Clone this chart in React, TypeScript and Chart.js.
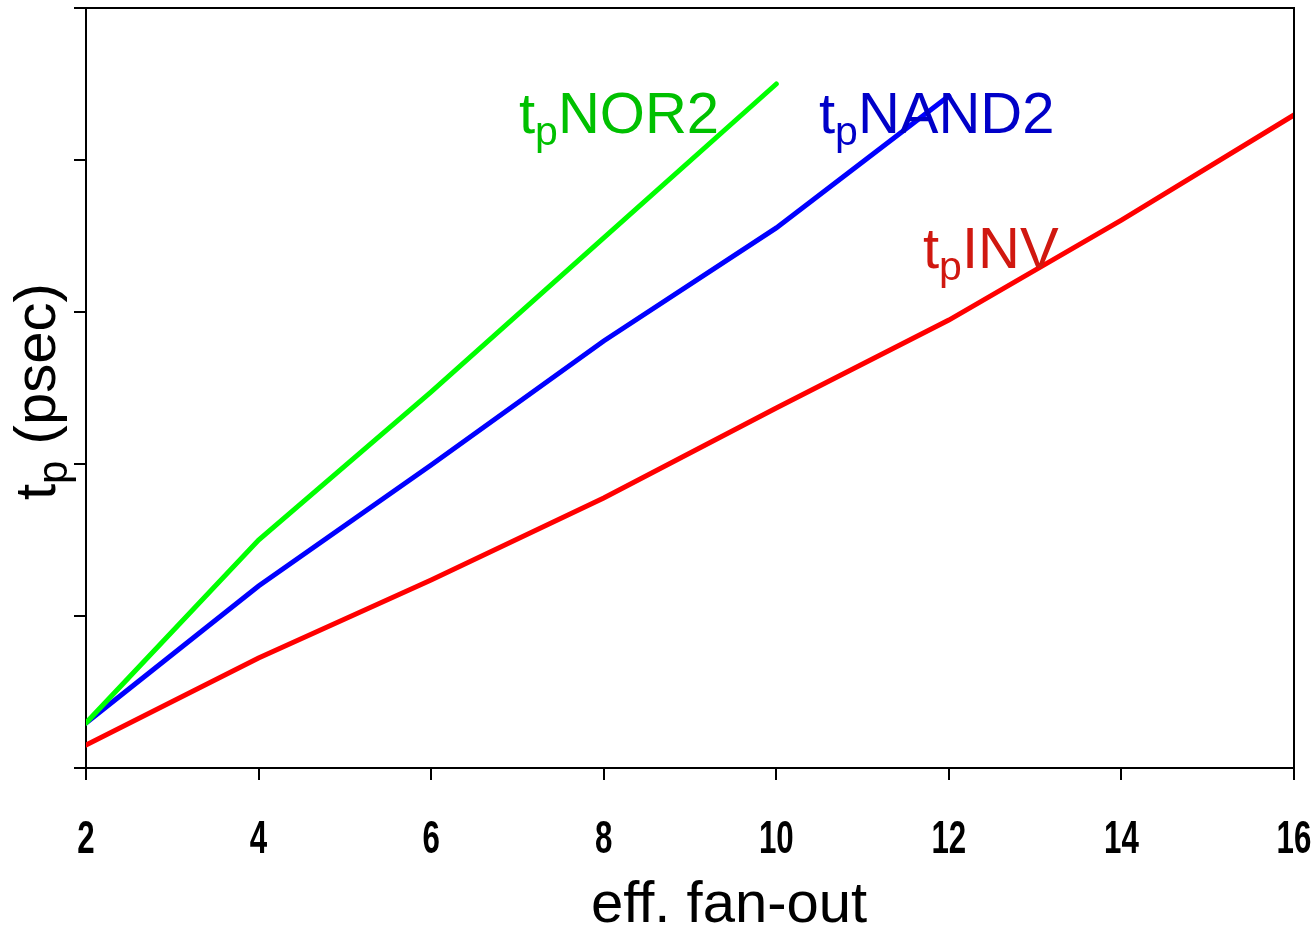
import React, { useEffect, useRef } from "react";
import { Chart, registerables } from "chart.js";

Chart.register(...registerables);

// ---- data ----
const fanOut = [2, 4, 6, 8, 10, 12, 14, 16];
const tpINV = [0.151, 0.724, 1.237, 1.776, 2.368, 2.947, 3.605, 4.296];
const tpNAND2 = [0.296, 1.197, 1.993, 2.809, 3.553, 4.421];
const tpNOR2 = [0.296, 1.5, 2.474, 3.487, 4.5];
const xTicks = [2, 4, 6, 8, 10, 12, 14, 16];
const xTitle = "eff. fan-out";
const yTitleMain = "t";
const yTitleSub = "p";
const yTitleRest = " (psec)";

const FONT = "'Liberation Sans', Arial, Helvetica, sans-serif";

function drawSubLabel(
  ctx: CanvasRenderingContext2D,
  x: number,
  baseline: number,
  a: string,
  sub: string,
  rest: string,
  color: string,
  size: number,
  subSize: number,
  subShift: number
) {
  ctx.save();
  ctx.fillStyle = color;
  ctx.textAlign = "left";
  ctx.textBaseline = "alphabetic";
  ctx.font = `${size}px ${FONT}`;
  ctx.fillText(a, x, baseline);
  let cx = x + ctx.measureText(a).width;
  ctx.font = `${subSize}px ${FONT}`;
  ctx.fillText(sub, cx, baseline + subShift);
  cx += ctx.measureText(sub).width;
  ctx.font = `${size}px ${FONT}`;
  ctx.fillText(rest, cx, baseline);
  ctx.restore();
}

const decorPlugin = {
  id: "decor",
  afterDraw(chart: any) {
    const ctx: CanvasRenderingContext2D = chart.ctx;
    const area = chart.chartArea;
    const xs = chart.scales.x;
    // frame (top and right)
    ctx.save();
    ctx.strokeStyle = "#000";
    ctx.lineWidth = 2;
    ctx.beginPath();
    ctx.moveTo(area.left, area.top);
    ctx.lineTo(area.right, area.top);
    ctx.lineTo(area.right, area.bottom);
    ctx.stroke();
    ctx.restore();

    // x tick labels (condensed bold)
    ctx.save();
    ctx.fillStyle = "#000";
    ctx.font = `bold 46px ${FONT}`;
    ctx.textAlign = "center";
    ctx.textBaseline = "alphabetic";
    for (const v of xTicks) {
      const px = xs.getPixelForValue(v);
      ctx.save();
      ctx.translate(px, 853);
      ctx.scale(0.68, 1);
      ctx.fillText(String(v), 0, 0);
      ctx.restore();
    }
    ctx.restore();

    // x title
    ctx.save();
    ctx.fillStyle = "#000";
    ctx.font = `58px ${FONT}`;
    ctx.textAlign = "center";
    ctx.textBaseline = "alphabetic";
    ctx.fillText(xTitle, 729, 922);
    ctx.restore();

    // y title rotated
    ctx.save();
    ctx.translate(55, 500);
    ctx.rotate(-Math.PI / 2);
    drawSubLabel(ctx, 0, 0, yTitleMain, yTitleSub, yTitleRest, "#000", 58, 42, 12);
    ctx.restore();

    // series labels
    drawSubLabel(ctx, 519, 133, "t", "p", "NOR2", "#00c000", 58, 41, 12);
    drawSubLabel(ctx, 819, 133, "t", "p", "NAND2", "#0000c8", 58, 41, 12);
    drawSubLabel(ctx, 923, 268, "t", "p", "INV", "#d01810", 58, 41, 12);
  },
};

export default function App() {
  const ref = useRef<HTMLCanvasElement | null>(null);
  useEffect(() => {
    if (!ref.current) return;
    const toXY = (ys: number[]) => ys.map((y, i) => ({ x: fanOut[i], y }));
    const chart = new Chart(ref.current, {
      type: "line",
      data: {
        datasets: [
          { label: "tpNOR2", data: toXY(tpNOR2), borderColor: "#00ff00", borderWidth: 5, pointRadius: 0, tension: 0, borderCapStyle: "round" },
          { label: "tpNAND2", data: toXY(tpNAND2), borderColor: "#0000ff", borderWidth: 5, pointRadius: 0, tension: 0, borderCapStyle: "round" },
          { label: "tpINV", data: toXY(tpINV), borderColor: "#ff0000", borderWidth: 5, pointRadius: 0, tension: 0, borderCapStyle: "round" },
        ],
      },
      options: {
        animation: false,
        responsive: false,
        devicePixelRatio: 1,
        layout: { padding: { left: 74, right: 22, top: 8, bottom: 149 } },
        plugins: { legend: { display: false }, tooltip: { enabled: false } },
        scales: {
          x: {
            type: "linear",
            min: 2,
            max: 16,
            ticks: { stepSize: 2, display: false },
            grid: { display: true, drawOnChartArea: false, drawTicks: true, tickLength: 12, color: "#000", lineWidth: 2 },
            border: { display: true, color: "#000", width: 2 },
          },
          y: {
            type: "linear",
            min: 0,
            max: 5,
            ticks: { stepSize: 1, display: false },
            grid: { display: true, drawOnChartArea: false, drawTicks: true, tickLength: 12, color: "#000", lineWidth: 2 },
            border: { display: true, color: "#000", width: 2 },
          },
        },
      },
      plugins: [decorPlugin],
    });
    return () => chart.destroy();
  }, []);
  return (
    <div style={{ position: "fixed", left: 0, top: 0, width: 1316, height: 929, background: "#fff" }}>
      <canvas ref={ref} width={1316} height={929} style={{ width: 1316, height: 929, display: "block" }} />
    </div>
  );
}
